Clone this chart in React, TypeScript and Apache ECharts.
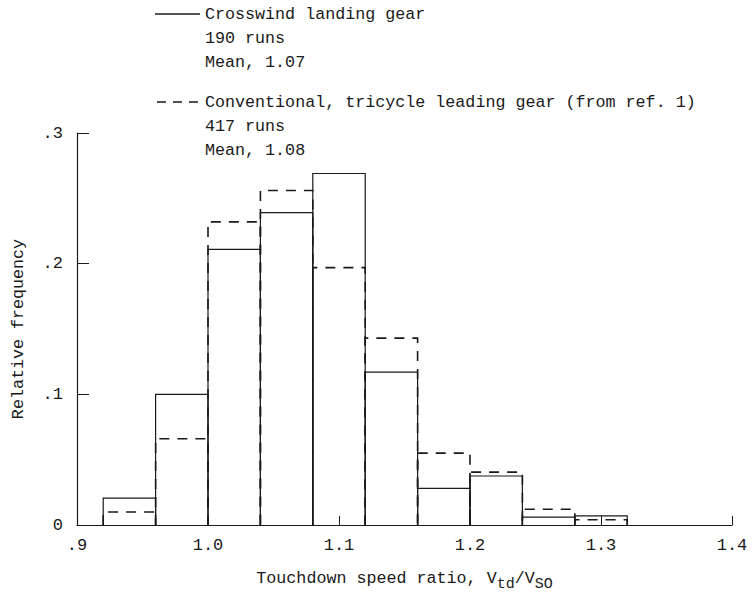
import React, { useEffect, useRef } from "react";
import * as echarts from "echarts";

// Bin edges (touchdown speed ratio)
const binStarts = [0.92, 0.96, 1.0, 1.04, 1.08, 1.12, 1.16, 1.2, 1.24, 1.28];
const binWidth = 0.04;
// Relative frequency, crosswind landing gear (solid)
const crosswind = [0.0205, 0.1, 0.211, 0.239, 0.269, 0.117, 0.028, 0.0375, 0.006, 0.007];
// Relative frequency, conventional tricycle gear (dashed)
const conventional = [0.01, 0.066, 0.232, 0.256, 0.197, 0.143, 0.055, 0.0405, 0.012, 0.004];

const xTicks = [0.9, 1.0, 1.1, 1.2, 1.3, 1.4];
const yTicks = [0, 0.1, 0.2, 0.3];

const legendSolid = ["Crosswind landing gear", "190 runs", "Mean, 1.07"];
const legendDashed = ["Conventional, tricycle leading gear (from ref. 1)", "417 runs", "Mean, 1.08"];

const FONT = "'Liberation Mono', 'DejaVu Sans Mono', monospace";
const INK = "#1a1a1a";

export default function App() {
  const ref = useRef<HTMLDivElement>(null);
  useEffect(() => {
    if (!ref.current) return;
    const chart = echarts.init(ref.current, undefined, { renderer: "svg" });

    const mkData = (vals: number[]) => binStarts.map((s, i) => [s, s + binWidth, vals[i]]);
    const renderer = (dashed: boolean) => (params: any, api: any) => {
      const s = api.value(0);
      const e = api.value(1);
      const h = api.value(2);
      const p0 = api.coord([s, 0]);
      const p1 = api.coord([s, h]);
      const p2 = api.coord([e, h]);
      const p3 = api.coord([e, 0]);
      return {
        type: "polyline",
        shape: { points: [p0, p1, p2, p3] },
        style: {
          stroke: INK,
          fill: "none",
          lineWidth: dashed ? 1.6 : 1.2,
          lineDash: dashed ? [10, 8] : undefined,
        },
      };
    };

    const legendText = (lines: string[], y: number) =>
      lines.map((t, i) => ({
        type: "text",
        x: 205,
        y: y + i * 24,
        style: { text: t, font: `16.7px ${FONT}`, fill: INK, verticalAlign: "middle" },
      }));

    chart.setOption({
      animation: false,
      grid: { left: 77, right: 22, top: 133, bottom: 79, containLabel: false },
      xAxis: {
        type: "value",
        min: 0.9,
        max: 1.4,
        interval: 0.1,
        axisLine: { lineStyle: { color: INK, width: 1.2 } },
        axisTick: { inside: true, length: 9, lineStyle: { color: INK } },
        splitLine: { show: false },
        axisLabel: {
          color: INK,
          fontFamily: FONT,
          fontSize: 17,
          margin: 12,
          formatter: (v: number) => {
            const t = xTicks.find((x) => Math.abs(x - v) < 1e-6) ?? v;
            return t < 1 ? "." + Math.round(t * 10) : t.toFixed(1);
          },
        },
        name: "{n|Touchdown speed ratio, V}{s|td}{n|/V}{s|SO}",
        nameLocation: "middle",
        nameGap: 40,
        nameTextStyle: {
          rich: {
            n: { fontFamily: FONT, fontSize: 16.7, color: INK },
            s: { fontFamily: FONT, fontSize: 15, color: INK, padding: [12, 0, 0, 0] },
          },
        },
      },
      yAxis: {
        type: "value",
        min: 0,
        max: 0.3,
        interval: 0.1,
        axisLine: { show: true, lineStyle: { color: INK, width: 1.2 } },
        axisTick: { show: true, inside: true, length: 12, lineStyle: { color: INK } },
        splitLine: { show: false },
        axisLabel: {
          color: INK,
          fontFamily: FONT,
          fontSize: 17,
          margin: 14,
          formatter: (v: number) => {
            const t = yTicks.find((y) => Math.abs(y - v) < 1e-6) ?? v;
            return t === 0 ? "0" : "." + Math.round(t * 10);
          },
        },
        name: "Relative frequency",
        nameLocation: "middle",
        nameGap: 50,
        nameTextStyle: { fontFamily: FONT, fontSize: 16.7, color: INK },
      },
      graphic: [
        { type: "line", shape: { x1: 155, y1: 14, x2: 200, y2: 14 }, style: { stroke: INK, lineWidth: 1.4 } },
        { type: "line", shape: { x1: 157, y1: 102, x2: 200, y2: 102 }, style: { stroke: INK, lineWidth: 1.6, lineDash: [9, 7] } },
        ...legendText(legendSolid, 14),
        ...legendText(legendDashed, 102),
      ],
      series: [
        {
          type: "custom",
          name: "Conventional",
          renderItem: renderer(true),
          data: mkData(conventional),
          encode: { x: [0, 1], y: 2 },
          z: 2,
          silent: true,
        },
        {
          type: "custom",
          name: "Crosswind",
          renderItem: renderer(false),
          data: mkData(crosswind),
          encode: { x: [0, 1], y: 2 },
          z: 3,
          silent: true,
        },
      ],
    });
    return () => chart.dispose();
  }, []);
  return (
    <div
      ref={ref}
      style={{ position: "absolute", left: 0, top: 0, width: 754, height: 604 }}
    />
  );
}
